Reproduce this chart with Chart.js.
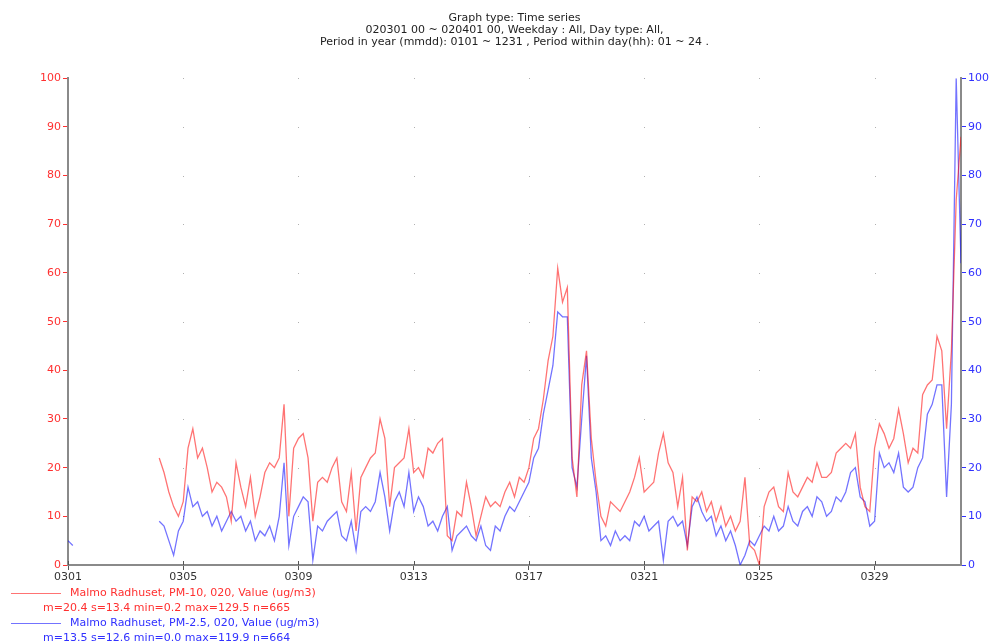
<!DOCTYPE html>
<html><head><meta charset="utf-8">
<script src="https://cdn.jsdelivr.net/npm/chart.js@4.4.0/dist/chart.umd.min.js"></script>
<style>
html,body{margin:0;padding:0;background:#fff;}
#wrap{position:relative;width:995px;height:641px;overflow:hidden;font-family:"DejaVu Sans",Arial,sans-serif;}
canvas{position:absolute;left:0;top:0;}
.lg{position:absolute;font-size:11px;white-space:nowrap;line-height:12px;}
.ln{position:absolute;height:0;border-top:1px solid;}
</style></head><body>
<div id="wrap"><canvas id="c" width="995" height="641"></canvas></div>
<script>
// ---- data ----
const HOUR_STEP = 4; // hours between samples, starting 0301 00
const xTickLabels = ['0301','0305','0309','0313','0317','0321','0325','0329'];
const titleLines = [
  'Graph type: Time series',
  '020301 00 ~ 020401 00, Weekday : All, Day type: All,',
  'Period in year (mmdd): 0101 ~ 1231 , Period within day(hh): 01 ~ 24 .'
];
const seriesNames = ['Malmo Radhuset, PM-10, 020, Value (ug/m3)', 'Malmo Radhuset, PM-2.5, 020, Value (ug/m3)'];
const seriesStats = ['m=20.4 s=13.4 min=0.2 max=129.5 n=665', 'm=13.5 s=12.6 min=0.0 max=119.9 n=664'];
const N = null;
const pm10 = [N,N,N,N,N,N,N,N,N,N,N,N,N,N,N,N,N,N,N,
22,19,15,12,10,13,24,28,22,24,
20,15,17,16,14,9,21,16,12,18,
10,14,19,21,20,22,33,10,24,26,
27,22,9,17,18,17,20,22,13,11,
19,7,18,20,22,23,30,26,12,20,
21,22,28,19,20,18,24,23,25,26,
6,5,11,10,17,12,6,10,14,12,
13,12,15,17,14,18,17,20,26,28,
34,42,47,61,54,57,22,14,37,44,
26,17,10,8,13,12,11,13,15,18,
22,15,16,17,23,27,21,19,12,18,
3,14,13,15,11,13,9,12,8,10,
7,9,18,4,3,0,12,15,16,12,
11,19,15,14,16,18,17,21,18,18,
19,23,24,25,24,27,16,12,11,24,
29,27,24,26,32,27,21,24,23,35,
37,38,47,44,28,44,75,88];
const pm25 = [5,4,N,N,N,N,N,N,N,N,N,N,N,N,N,N,N,N,N,
9,8,5,2,7,9,16,12,13,10,
11,8,10,7,9,11,9,10,7,9,
5,7,6,8,5,10,21,4,10,12,
14,13,1,8,7,9,10,11,6,5,
9,3,11,12,11,13,19,14,7,13,
15,12,19,11,14,12,8,9,7,10,
12,3,6,7,8,6,5,8,4,3,
8,7,10,12,11,13,15,17,22,24,
31,36,41,52,51,51,20,16,30,43,
22,15,5,6,4,7,5,6,5,9,
8,10,7,8,9,1,9,10,8,9,
4,12,14,11,9,10,6,8,5,7,
4,0,2,5,4,6,8,7,10,7,
8,12,9,8,11,12,10,14,13,10,
11,14,13,15,19,20,14,13,8,9,
23,20,21,19,23,16,15,16,20,22,
31,33,37,37,14,33,100,62];

// ---- styles ----
const FONT = '"DejaVu Sans", Arial, sans-serif';
const RED = 'rgba(255,0,0,0.55)';
const BLUE = 'rgba(0,0,255,0.55)';
const toPts = arr => arr.map((v,i)=>({x:i*HOUR_STEP, y:v}));

const dotGrid = {
  id:'dotGrid',
  beforeDatasetsDraw(chart){
    const {ctx, scales:{x, y}} = chart;
    ctx.save();
    ctx.fillStyle = '#b0b0b0';
    x.ticks.forEach(t=>{
      if (t.value === 0) return;
      const px = Math.round(x.getPixelForValue(t.value));
      y.ticks.forEach(u=>{
        if (u.value === 0) return;
        const py = Math.round(y.getPixelForValue(u.value));
        ctx.fillRect(px, py, 1, 1);
      });
    });
    ctx.fillStyle = '#555';
    x.ticks.forEach(t=>{
      const px = Math.round(x.getPixelForValue(t.value));
      ctx.fillRect(px, y.bottom-4, 1, 4);
    });
    ctx.restore();
  }
};

new Chart(document.getElementById('c'), {
  type:'line',
  data:{datasets:[
    {label:seriesNames[0], data:toPts(pm10), borderColor:RED, borderWidth:1.3, pointRadius:0, yAxisID:'y', tension:0, spanGaps:false},
    {label:seriesNames[1], data:toPts(pm25), borderColor:BLUE, borderWidth:1.3, pointRadius:0, yAxisID:'y2', tension:0, spanGaps:false}
  ]},
  options:{
    responsive:false, animation:false, events:[],
    layout:{padding:0},
    plugins:{
      legend:{display:false}, tooltip:{enabled:false},
      title:{display:true, text:titleLines, fullSize:false, color:'#222',
        font:{family:FONT, size:11, weight:'normal', lineHeight:1.1}, padding:{top:12, bottom:30}}
    },
    scales:{
      x:{type:'linear', min:0, max:744,
        afterBuildTicks:s=>{ s.ticks = xTickLabels.map((l,i)=>({value:i*96})); },
        ticks:{callback:v=>xTickLabels[Math.round(v/96)], color:'#333', font:{family:FONT,size:11}, maxRotation:0, autoSkip:false, padding:1},
        grid:{drawOnChartArea:false, drawTicks:true, tickLength:5, color:'#555'},
        border:{color:'#8a8a8a', width:2},
        afterFit:s=>{ s.height = 76; }
      },
      y:{position:'left', min:0, max:100,
        ticks:{stepSize:10, color:'#ff3030', font:{family:FONT,size:11}, padding:2},
        grid:{drawOnChartArea:false, tickLength:5, color:'#ff3030'},
        border:{color:'#8a8a8a', width:2},
        afterFit:s=>{ s.width = 68; }
      },
      y2:{position:'right', min:0, max:100,
        ticks:{stepSize:10, color:'#3030ff', font:{family:FONT,size:11}, padding:2},
        grid:{drawOnChartArea:false, tickLength:5, color:'#3030ff'},
        border:{color:'#8a8a8a', width:2},
        afterFit:s=>{ s.width = 34; }
      }
    }
  },
  plugins:[dotGrid]
});

// ---- legend (HTML text) ----
const wrap = document.getElementById('wrap');
const legColors = ['#ff3030', '#3030ff'];
const lineColors = [RED, BLUE];
seriesNames.forEach((name, k)=>{
  const top = 593 + k*30;
  const ln = document.createElement('div');
  ln.className = 'ln';
  ln.style.cssText = `left:11px;top:${top}px;width:50px;border-color:${lineColors[k]}`;
  wrap.appendChild(ln);
  const t1 = document.createElement('div');
  t1.className = 'lg';
  t1.style.cssText = `left:70px;top:${top-6}px;color:${legColors[k]}`;
  t1.textContent = name;
  wrap.appendChild(t1);
  const t2 = document.createElement('div');
  t2.className = 'lg';
  t2.style.cssText = `left:43px;top:${top+9}px;color:${legColors[k]}`;
  t2.textContent = seriesStats[k];
  wrap.appendChild(t2);
});
</script>
</body></html>
